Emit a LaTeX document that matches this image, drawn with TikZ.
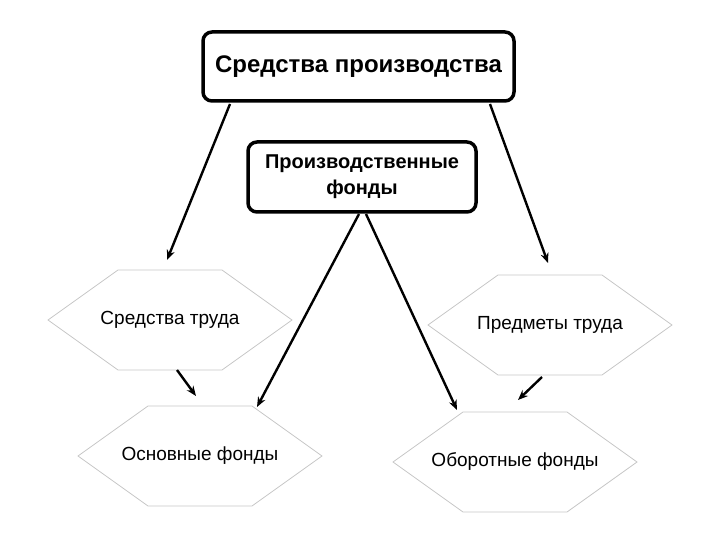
\documentclass[tikz,border=0pt]{standalone}
\usepackage{fontspec}
\setmainfont{Liberation Sans}
\usetikzlibrary{arrows.meta}

\begin{document}
\begin{tikzpicture}[x=1pt, y=-1pt,
    box/.style={draw, line width=3.5pt, rounded corners=9pt, align=center, inner sep=0pt},
    hexline/.style={draw=gray!45, line width=0.8pt},
    hextext/.style={font=\fontsize{19}{22}\selectfont, inner sep=0pt},
    link/.style={line width=2.4pt, -{Stealth[length=10pt, width=8pt]}}]
    \useasboundingbox (0,0) rectangle (720,540);

    % Top boxes
    \node[box, minimum width=311pt, minimum height=69pt, font=\fontsize{24}{27}\bfseries] (SP) at (358.5,66.5) {Средства производства};
    \node[box, minimum width=228pt, minimum height=70pt, font=\fontsize{20}{26}\bfseries] (PF) at (362,177) {Производственные\\фонды};

    % Hexagon centres
    \coordinate (ST) at (170,320); \coordinate (PT) at (550,325);
    \coordinate (OF) at (200,456); \coordinate (OB) at (515,462);

    % Hexagons (thin gray outline)
    \foreach \h in {ST,PT,OF,OB} {
        \begin{scope}[shift={(\h)}]
            \draw[hexline] (-122,0) -- (-52,-50) -- (52,-50) -- (122,0) -- (52,50) -- (-52,50) -- cycle;
        \end{scope}
    }

    % Hexagon labels
    \node[hextext] (stL) at (ST) {Средства труда};
    \node[hextext] (ptL) at (PT) {Предметы труда};
    \node[hextext] (ofL) at (OF) {Основные фонды};
    \node[hextext] (obL) at (OB) {Оборотные фонды};

    % Arrow end points
    \coordinate (a1s) at (230,104); \coordinate (a1e) at (167,260);
    \coordinate (a2s) at (490,104); \coordinate (a2e) at (548,263);
    \coordinate (a3s) at (359,214); \coordinate (a3e) at (257,407);
    \coordinate (a4s) at (366,214); \coordinate (a4e) at (457,410);
    \coordinate (a5s) at (177,370); \coordinate (a5e) at (196,396);
    \coordinate (a6s) at (542,377); \coordinate (a6e) at (518,400);

    % Arrows
    \draw[link] (a1s) -- (a1e);
    \draw[link] (a2s) -- (a2e);
    \draw[link] (a3s) -- (a3e);
    \draw[link] (a4s) -- (a4e);
    \draw[link] (a5s) -- (a5e);
    \draw[link] (a6s) -- (a6e);
\end{tikzpicture}
\end{document}
